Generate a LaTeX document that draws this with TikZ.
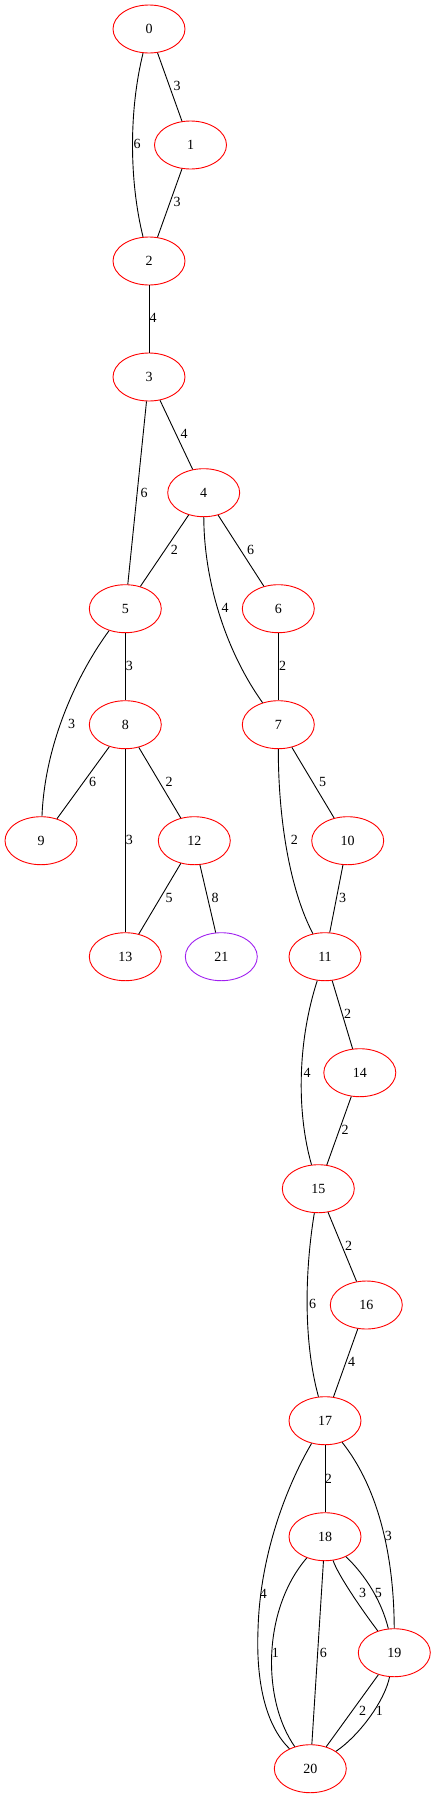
\documentclass[tikz,border=0pt]{standalone}
\usepackage{fontspec}
\setmainfont{Liberation Serif}
\usetikzlibrary{shapes.geometric}
\definecolor{gvred}{HTML}{FF0000}
\definecolor{gvpurple}{HTML}{A020F0}
\begin{document}
\begin{tikzpicture}[x=1pt,y=-1pt,
  vtx/.style={ellipse,draw=gvred,line width=0.9pt,minimum width=72pt,minimum height=48pt,inner sep=0pt,font=\fontsize{14}{16}\selectfont},
  vtxp/.style={vtx,draw=gvpurple},
  edge/.style={draw=black,line width=0.9pt},
  wt/.style={inner sep=0pt,font=\fontsize{14}{16}\selectfont}]
\useasboundingbox (0,0) rectangle (436,1799);
% nodes
\node[vtx] (n0) at (149,29) {0};
\node[vtx] (n1) at (190.5,145) {1};
\node[vtx] (n2) at (149,261) {2};
\node[vtx] (n3) at (149,377) {3};
\node[vtx] (n4) at (203.7,492.7) {4};
\node[vtx] (n5) at (125.3,608.7) {5};
\node[vtx] (n6) at (278.3,608.7) {6};
\node[vtx] (n8) at (125.3,724.7) {8};
\node[vtx] (n7) at (278.3,724.7) {7};
\node[vtx] (n9) at (41,840.7) {9};
\node[vtx] (n12) at (194.3,840.7) {12};
\node[vtx] (n10) at (347.7,840.7) {10};
\node[vtx] (n13) at (125.3,956.7) {13};
\node[vtxp] (n21) at (221.3,956.7) {21};
\node[vtx] (n11) at (325,956.7) {11};
\node[vtx] (n14) at (359.8,1072.7) {14};
\node[vtx] (n15) at (318.3,1188.7) {15};
\node[vtx] (n16) at (366.3,1305) {16};
\node[vtx] (n17) at (325,1420.7) {17};
\node[vtx] (n18) at (325,1536.7) {18};
\node[vtx] (n19) at (394.3,1652.7) {19};
\node[vtx] (n20) at (310.3,1768.7) {20};
% edges
\draw[edge] (n0) -- (n1);
\draw[edge] (n0) .. controls (129,110) and (129,180) .. (n2);
\draw[edge] (n1) -- (n2);
\draw[edge] (n2) -- (n3);
\draw[edge] (n3) -- (n4);
\draw[edge] (n3) -- (n5);
\draw[edge] (n4) -- (n5);
\draw[edge] (n4) -- (n6);
\draw[edge] (n4) .. controls (204,580) and (225,650) .. (n7);
\draw[edge] (n6) -- (n7);
\draw[edge] (n5) -- (n8);
\draw[edge] (n5) .. controls (80,670) and (45,740) .. (n9);
\draw[edge] (n8) -- (n9);
\draw[edge] (n8) -- (n13);
\draw[edge] (n8) -- (n12);
\draw[edge] (n12) -- (n13);
\draw[edge] (n12) -- (n21);
\draw[edge] (n7) -- (n10);
\draw[edge] (n7) .. controls (278.3,820) and (290,890) .. (n11);
\draw[edge] (n10) -- (n11);
\draw[edge] (n11) -- (n14);
\draw[edge] (n11) .. controls (298,1040) and (296,1110) .. (n15);
\draw[edge] (n14) -- (n15);
\draw[edge] (n15) -- (n16);
\draw[edge] (n15) .. controls (305,1270) and (303,1340) .. (n17);
\draw[edge] (n16) -- (n17);
\draw[edge] (n17) -- (n18);
\draw[edge] (n17) .. controls (380,1490) and (394,1560) .. (n19);
\coordinate (m1720) at (258,1630);
\draw[edge] (n17) .. controls (290,1480) and (260,1550) .. (m1720) .. controls (256,1680) and (265,1725) .. (n20);
\draw[edge] (n18) .. controls (338,1575) and (362,1610) .. (n19);
\draw[edge] (n18) .. controls (360,1570) and (380,1595) .. (n19);
\draw[edge] (n18) .. controls (262,1610) and (262,1700) .. (n20);
\draw[edge] (n18) -- (n20);
\draw[edge] (n19) -- (n20);
\draw[edge] (n19) .. controls (385,1700) and (360,1735) .. (n20);
% labels
\node[wt] (l01) at (177,86) {3};
\node[wt] (l02) at (137,144) {6};
\node[wt] (l12) at (177,202) {3};
\node[wt] (l23) at (153,318) {4};
\node[wt] (l34) at (184,434) {4};
\node[wt] (l35) at (144,493) {6};
\node[wt] (l45) at (174.3,550) {2};
\node[wt] (l46) at (250.7,550) {6};
\node[wt] (l47) at (225,608) {4};
\node[wt] (l67) at (282.7,666) {2};
\node[wt] (l58) at (129.3,666) {3};
\node[wt] (l59) at (71.7,724) {3};
\node[wt] (l89) at (92.7,782) {6};
\node[wt] (l813) at (129.3,840) {3};
\node[wt] (l812) at (169,782) {2};
\node[wt] (l1213) at (169,898) {5};
\node[wt] (l1221) at (215,898) {8};
\node[wt] (l710) at (322.7,782) {5};
\node[wt] (l711) at (294.3,840) {2};
\node[wt] (l1011) at (342.7,898) {3};
\node[wt] (l1114) at (347.7,1014) {2};
\node[wt] (l1115) at (307,1072.7) {4};
\node[wt] (l1415) at (345,1130) {2};
\node[wt] (l1516) at (348.7,1246) {2};
\node[wt] (l1517) at (312.7,1304) {6};
\node[wt] (l1617) at (351.7,1362) {4};
\node[wt] (l1718) at (328.3,1479) {2};
\node[wt] (l1719) at (388.3,1536) {3};
\node[wt] (l1720) at (263.3,1594) {4};
\node[wt] (l1819a) at (362.7,1593) {3};
\node[wt] (l1819b) at (378.3,1593) {5};
\node[wt] (l1820a) at (275.3,1652.7) {1};
\node[wt] (l1820b) at (323.3,1652.7) {6};
\node[wt] (l1920a) at (362.7,1710.7) {2};
\node[wt] (l1920b) at (379.3,1710.7) {1};
\end{tikzpicture}
\end{document}
